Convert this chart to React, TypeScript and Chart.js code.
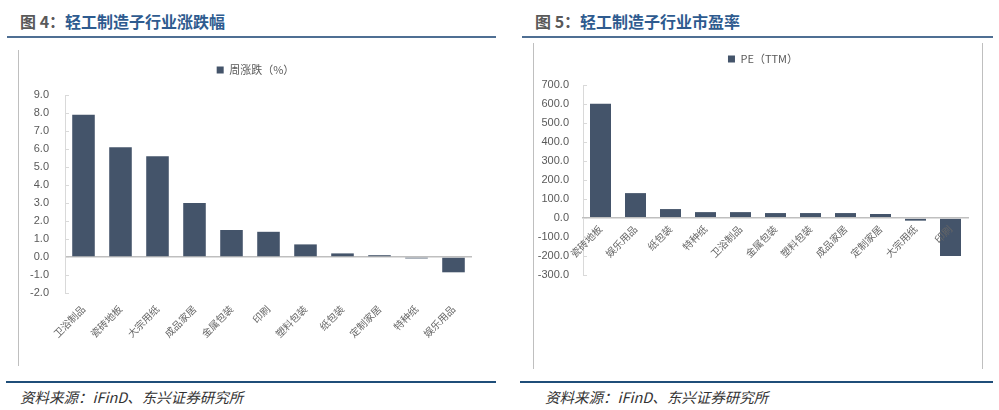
import React, { useEffect, useRef } from 'react';
import { Chart, registerables } from 'chart.js';

Chart.register(...registerables);

// ---- data ----
const changeCategories = ['卫浴制品', '瓷砖地板', '大宗用纸', '成品家居', '金属包装', '印刷', '塑料包装', '纸包装', '定制家居', '特种纸', '娱乐用品'];
const changeValues = [7.9, 6.1, 5.6, 3.0, 1.5, 1.4, 0.7, 0.2, 0.1, -0.08, -0.85];
const changeLegend = '周涨跌（%）';
const changeTicks = { min: -2, max: 9, step: 1 };

const peCategories = ['瓷砖地板', '娱乐用品', '纸包装', '特种纸', '卫浴制品', '金属包装', '塑料包装', '成品家居', '定制家居', '大宗用纸', '印刷'];
const peValues = [601, 131, 47, 31, 31, 26, 26, 26, 21, -14, -200];
const peLegend = 'PE（TTM）';
const peTicks = { min: -300, max: 700, step: 100 };

const BAR = '#44546A';
const AXIS = '#D9D9D9';
const ZERO = '#BFBFBF';
const TEXT = '#595959';

const legendSpacer = {
  id: 'legendSpacer',
  beforeLayout(chart: any, _args: any, opts: any) {
    const lg = chart.legend;
    if (lg && !lg.__patched) {
      const orig = lg.fit;
      lg.fit = function () {
        orig.call(this);
        this.height += opts.extra || 0;
      };
      lg.__patched = true;
    }
  },
  afterLayout(chart: any, _args: any, opts: any) {
    const lg = chart.legend;
    if (lg && opts.shift) {
      lg.left += opts.shift;
      lg.right += opts.shift;
    }
  },
};

const innerTicks = {
  id: 'innerTicks',
  afterDraw(chart: any) {
    const y = chart.scales.y;
    const ctx = chart.ctx;
    ctx.save();
    ctx.strokeStyle = AXIS;
    ctx.lineWidth = 1;
    y.ticks.forEach((t: any) => {
      const py = Math.round(y.getPixelForValue(t.value)) + 0.5;
      ctx.beginPath();
      ctx.moveTo(y.right, py);
      ctx.lineTo(y.right + 4, py);
      ctx.stroke();
    });
    ctx.restore();
  },
};

interface Opts {
  labels: string[];
  values: number[];
  legend: string;
  ticks: { min: number; max: number; step: number };
  yWidth: number;
  xHeight: number;
  padTop: number;
  padRight: number;
  padBottom: number;
  legendPad: number;
  legendExtra: number;
  legendShift: number;
  xAtZero: boolean;
  labelPad: number;
  yPad: number;
  barPct: number;
}

function BarChart(props: Opts & { style: React.CSSProperties }) {
  const ref = useRef<HTMLCanvasElement>(null);
  useEffect(() => {
    if (!ref.current) return;
    const o = props;
    const chart = new Chart(ref.current, {
      type: 'bar',
      data: {
        labels: o.labels,
        datasets: [
          {
            label: o.legend,
            data: o.values,
            backgroundColor: BAR,
            borderWidth: 0,
            barPercentage: o.barPct,
            categoryPercentage: 1,
          },
        ],
      },
      options: {
        animation: false,
        responsive: false,
        maintainAspectRatio: false,
        layout: { padding: { top: o.padTop, right: o.padRight, left: 0, bottom: o.padBottom } },
        plugins: {
          legend: {
            display: true,
            position: 'top',
            labels: {
              boxWidth: 7,
              boxHeight: 7,
              padding: o.legendPad,
              color: TEXT,
              font: { size: 11, family: '"Noto Sans CJK SC", sans-serif' },
              generateLabels: (c: any) =>
                (Chart.defaults.plugins.legend.labels.generateLabels as any)(c).map((l: any) => ({ ...l, lineWidth: 0 })),
            },
          },
          tooltip: { enabled: false },
          legendSpacer: { extra: o.legendExtra, shift: o.legendShift },
        } as any,
        scales: {
          x: {
            position: o.xAtZero ? ({ y: 0 } as any) : 'bottom',
            grid: { display: false, drawTicks: false },
            border: { display: o.xAtZero, color: ZERO, width: 1.5, z: 1 } as any,
            ticks: {
              z: 1,
              autoSkip: false,
              minRotation: 45,
              maxRotation: 45,
              padding: o.labelPad,
              color: '#666666',
              font: { size: 10, family: '"Noto Sans CJK SC", sans-serif' },
            },
            afterFit: (s: any) => {
              s.height = o.xHeight;
            },
          },
          y: {
            min: o.ticks.min,
            max: o.ticks.max,
            grid: {
              display: true,
              drawTicks: false,
              color: (c: any) => (!o.xAtZero && c.tick && c.tick.value === 0 ? ZERO : 'rgba(0,0,0,0)'),
              lineWidth: 1.5,
            },
            border: { display: true, color: AXIS, width: 1 },
            ticks: {
              stepSize: o.ticks.step,
              padding: o.yPad,
              color: TEXT,
              font: { size: 11, family: '"Liberation Sans", Arial, sans-serif' },
              callback: (v: any) => Number(v).toFixed(1),
            },
            afterFit: (s: any) => {
              s.width = o.yWidth;
            },
          },
        },
      },
      plugins: [legendSpacer, innerTicks],
    });
    return () => chart.destroy();
  }, []);
  const { style } = props;
  return (
    <div style={{ position: 'absolute', ...style }}>
      <canvas ref={ref} width={style.width as number} height={style.height as number} style={{ display: 'block' }} />
    </div>
  );
}

const titleFont = '"Noto Sans CJK SC", "Noto Sans", sans-serif';

function Title({ left, num, text }: { left: number; num: string; text: string }) {
  return (
    <div
      style={{
        position: 'absolute',
        left,
        top: 10,
        fontFamily: titleFont,
        fontWeight: 700,
        fontSize: 16,
        lineHeight: '22px',
        whiteSpace: 'nowrap',
      }}
    >
      <span style={{ color: '#595959' }}>{num}</span>
      <span style={{ color: '#2E5B8F' }}>{text}</span>
    </div>
  );
}

function Source({ left }: { left: number }) {
  return (
    <div
      style={{
        position: 'absolute',
        left,
        top: 387,
        fontFamily: titleFont,
        fontStyle: 'italic',
        fontSize: 14.5,
        lineHeight: '20px',
        color: '#333333',
        whiteSpace: 'nowrap',
      }}
    >
      资料来源：iFinD、东兴证券研究所
    </div>
  );
}

function Line({ x, y, w, h, c }: { x: number; y: number; w: number; h: number; c: string }) {
  return <div style={{ position: 'absolute', left: x, top: y, width: w, height: h, background: c }} />;
}

export default function App() {
  return (
    <div style={{ position: 'fixed', left: 0, top: 0, width: 999, height: 410, background: '#fff', overflow: 'hidden' }}>
      <Title left={20} num="图 4：" text="轻工制造子行业涨跌幅" />
      <Title left={535} num="图 5：" text="轻工制造子行业市盈率" />
      <Line x={7} y={36} w={489} h={2} c="#4F6F93" />
      <Line x={522} y={36} w={471} h={2} c="#4F6F93" />
      <Line x={18} y={50} w={1} h={316} c={ZERO} />
      <Line x={533} y={43} w={1} h={326} c={ZERO} />
      <Line x={982} y={43} w={1} h={326} c={ZERO} />
      <BarChart
        style={{ left: 19, top: 50, width: 477, height: 320 }}
        labels={changeCategories}
        values={changeValues}
        legend={changeLegend}
        ticks={changeTicks}
        yWidth={46}
        xHeight={77}
        padTop={6.5}
        padRight={24}
        padBottom={0}
        legendPad={8}
        legendExtra={9.5}
        legendShift={10}
        xAtZero={false}
        labelPad={10}
        yPad={16}
        barPct={0.61}
      />
      <BarChart
        style={{ left: 534, top: 45, width: 448, height: 325 }}
        labels={peCategories}
        values={peValues}
        legend={peLegend}
        ticks={peTicks}
        yWidth={49}
        xHeight={95}
        padTop={2.5}
        padRight={14}
        padBottom={95}
        legendPad={6}
        legendExtra={10.5}
        legendShift={12}
        xAtZero={true}
        labelPad={5}
        yPad={14}
        barPct={0.6}
      />
      <Line x={6} y={381} w={490} h={2} c="#1F4E79" />
      <Line x={520} y={381} w={473} h={2} c="#1F4E79" />
      <Source left={20} />
      <Source left={545} />
    </div>
  );
}
